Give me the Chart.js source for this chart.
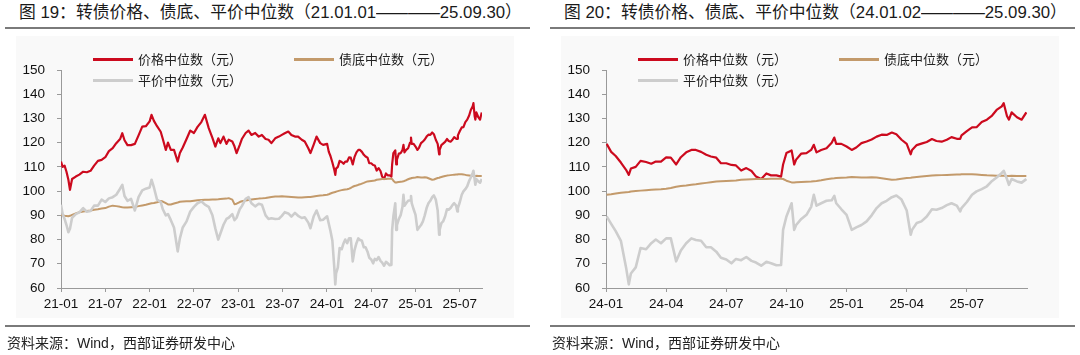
<!DOCTYPE html>
<html><head><meta charset="utf-8">
<script src="https://cdn.jsdelivr.net/npm/chart.js@4.4.0/dist/chart.umd.min.js"></script>
<style>
html,body{margin:0;padding:0}
body{width:1080px;height:355px;background:#fff;position:relative;overflow:hidden;font-family:"Liberation Sans","Noto Sans CJK SC",sans-serif;}
.title{position:absolute;top:1px;font-size:16.8px;color:#1a1a1a;white-space:nowrap;line-height:24px}
.dash{display:inline-block;transform:scaleX(1.9);transform-origin:0 50%;margin-right:30px}
.rule{position:absolute;height:2px;background:#7a7a7a}
.bg{position:absolute;background:#f9f9f9;top:36px;height:282px;width:498px}
canvas{position:absolute;top:0}
.leg{position:absolute;font-family:"Noto Sans CJK SC",sans-serif;font-size:13px;color:#222;line-height:16px;white-space:nowrap}
.sw{position:absolute;height:3px;width:40px}
.src{position:absolute;top:333px;font-size:14px;color:#222;white-space:nowrap;line-height:20px}
</style></head>
<body>
<div class="title" style="left:19px">图 19：转债价格、债底、平价中位数（21.01.01<span class="dash">——</span>25.09.30）</div>
<div class="title" style="left:564px">图 20：转债价格、债底、平价中位数（24.01.02<span class="dash">——</span>25.09.30）</div>
<div class="rule" style="left:5px;width:525px;top:27px"></div>
<div class="rule" style="left:550px;width:525px;top:27px"></div>
<div class="bg" style="left:16px"></div>
<div class="bg" style="left:561px"></div>
<canvas id="c1" width="540" height="355" style="left:0"></canvas>
<canvas id="c2" width="535" height="355" style="left:545px"></canvas>
<div id="legs"></div>
<div class="rule" style="left:5px;width:525px;top:325px"></div>
<div class="rule" style="left:550px;width:525px;top:325px"></div>
<div class="src" style="left:7px">资料来源：Wind，西部证券研发中心</div>
<div class="src" style="left:552px">资料来源：Wind，西部证券研发中心</div>
<script>
// ---- data ----
const dates = [
'2021-01-01','2021-01-08','2021-01-16','2021-01-24','2021-02-01','2021-02-07','2021-02-15','2021-03-01','2021-03-16','2021-04-01',
'2021-04-16','2021-05-01','2021-05-16','2021-06-01','2021-06-16','2021-07-01','2021-07-16','2021-08-01','2021-08-16','2021-09-01',
'2021-09-10','2021-09-19','2021-10-01','2021-10-16','2021-11-01','2021-11-16','2021-12-01','2021-12-16','2022-01-01','2022-01-09',
'2022-01-19','2022-02-01','2022-02-15','2022-02-23','2022-03-07','2022-03-16','2022-03-28','2022-04-10','2022-04-25','2022-05-04',
'2022-05-16','2022-06-01','2022-06-16','2022-07-01','2022-07-16','2022-08-01','2022-08-16','2022-09-01','2022-09-16','2022-09-28',
'2022-10-10','2022-10-19','2022-11-01','2022-11-13','2022-11-22','2022-12-07','2022-12-16','2022-12-25','2023-01-07','2023-01-16',
'2023-02-01','2023-02-12','2023-02-23','2023-03-10','2023-03-25','2023-04-07','2023-04-22','2023-05-04','2023-05-16','2023-06-01',
'2023-06-16','2023-06-28','2023-07-10','2023-07-25','2023-08-07','2023-08-22','2023-09-04','2023-09-19','2023-10-01','2023-10-16',
'2023-10-25','2023-11-07','2023-11-19','2023-12-04','2023-12-16',
'2024-01-02','2024-01-09','2024-01-16','2024-01-24','2024-02-01','2024-02-05','2024-02-08','2024-02-15','2024-02-22','2024-03-01',
'2024-03-09','2024-03-16','2024-03-24','2024-04-01','2024-04-08','2024-04-16','2024-04-23','2024-05-01','2024-05-09','2024-05-16',
'2024-05-24','2024-06-01','2024-06-08','2024-06-16','2024-06-23','2024-07-01','2024-07-09','2024-07-16','2024-07-24','2024-08-01',
'2024-08-09','2024-08-16','2024-08-24','2024-09-01','2024-09-08','2024-09-16','2024-09-23','2024-09-26','2024-10-01','2024-10-09',
'2024-10-13','2024-10-16','2024-10-24','2024-11-01','2024-11-08','2024-11-12','2024-11-16','2024-11-23','2024-12-01','2024-12-09',
'2024-12-13','2024-12-16','2024-12-24','2025-01-01','2025-01-09','2025-01-16','2025-01-24','2025-02-01','2025-02-08','2025-02-15',
'2025-02-22','2025-03-01','2025-03-09','2025-03-16','2025-03-24','2025-04-01','2025-04-07','2025-04-09','2025-04-16','2025-04-23',
'2025-05-01','2025-05-09','2025-05-16','2025-05-24','2025-06-01','2025-06-08','2025-06-16','2025-06-21','2025-06-23','2025-07-01',
'2025-07-09','2025-07-16','2025-07-24','2025-08-01','2025-08-09','2025-08-16','2025-08-24','2025-08-27','2025-09-01','2025-09-04',
'2025-09-08','2025-09-16','2025-09-23','2025-09-30'];

const priceMedian = [
112.2,110,110.5,108,104.7,100.5,105,106,106.8,108,
107.8,108.4,110.5,112.5,112.9,114,116.5,117.7,119.8,121.5,
123.9,121,119,119,119.5,123,126.6,126.8,128.8,131.5,
129,126.8,124.5,121.5,117,120,117,117,112.2,115.7,
118,121.5,125,124,126.5,128.5,131.5,126,122,118.4,
121.8,119.8,122.5,119.5,121.2,120.5,118.5,115.7,119,121.5,
124,125,123.2,124,122.5,123.2,121.5,121.2,119.8,121.8,
122.5,123.2,123.9,124.6,123.2,122.5,122.5,121.2,120.5,117.7,
115.7,119.1,122.5,119.8,119.1,
119.5,116.2,114.5,111.8,108.8,106.7,109.3,110,112.5,112,
111.3,112.2,112.2,113.9,113.8,111,114,116,117,117,
116.2,115,114.3,113.8,111.5,111.5,110.8,110.6,108.5,109.5,
108.3,106,105,107.3,106.5,106.5,106,111,115.7,116.8,
111,113,115.5,115.7,117,119.1,116,117,117.7,120,
122.1,119.5,119.5,118.4,117,118,119.8,120.5,121.3,122.5,
123.3,123.2,124.2,123.5,121.2,119.5,115.2,117,119,119.6,
120.3,121.5,120.7,120.4,121.2,122.3,121.6,121.6,123,124.8,
126.3,126.4,128.5,129.5,131.2,133.5,135,136.3,131,129.5,
132.5,130.5,129.5,132.5];

const bondFloor = [
90.2,90,89.8,89.7,89.6,89.8,90.2,90.8,91.3,91.6,
91.8,92,92.3,92.5,92.8,93,93.6,94,93.8,93.5,
93.3,93.2,93.2,93.3,93.4,93.8,94.1,94.4,94.8,95,
95.1,95.4,95.9,95.7,95,94.5,94.5,94.9,95.3,95.6,
95.7,95.8,95.8,96,96.2,96.3,96.4,96.4,96.5,96.5,
96.6,96.7,96.8,96.9,97.1,96.5,94.6,94.8,95.5,95.8,
96.1,96.3,96.5,96.7,96.9,97,97.2,97.4,97.6,97.8,
97.8,97.9,97.8,97.7,97.6,97.5,97.4,97.4,97.5,97.6,
97.6,97.8,98,98.2,98.3,
98.5,98.7,99,99.3,99.5,99.6,99.8,100,100.2,100.4,
100.6,100.7,100.8,101,101.3,101.8,102.1,102.3,102.6,102.8,
103.1,103.4,103.7,104,104.1,104.2,104.3,104.4,104.7,104.8,
104.9,105,105,105,105.1,105.1,105.1,105,104.3,103.6,
103.6,103.7,103.8,103.9,104,104.1,104.2,104.5,104.9,105.2,
105.3,105.4,105.5,105.6,105.8,105.7,105.6,105.6,105.7,105.6,
105.3,105,104.7,104.8,105.1,105.4,105.5,105.6,105.8,106,
106.2,106.4,106.5,106.6,106.7,106.8,106.9,106.9,107,107,
107,106.9,106.7,106.5,106.4,106.3,106.3,106.3,106.2,106.2,
106.3,106.2,106.2,106.2];

const parityMedian = [
94.4,90.5,88.5,86,83,84.5,89,90.5,91.2,93,
91.5,91.8,94,94,96.5,95.5,97,97.5,98.5,101,
102.6,98,96,96.8,92,97.5,100.3,101,101.5,104.7,
101.5,96.5,95.5,92.5,90,90.5,88,85,75.1,80.5,
85,87.5,91.6,93.5,95,95.8,94.4,93.5,90,84.5,
80,82.5,86.1,88.5,89,90.5,88,89,92.5,93.8,
96.8,97.5,95,93.7,94.8,94.4,90,88.5,88.8,88.5,
88.6,89.8,91.3,90.8,89.5,91,89.8,88.9,89.2,87,
84.7,89.5,92,88,88.2,
89.6,86.5,83.5,79.5,68.5,61.5,66,68.5,76.5,76,
78.5,80,78.5,80.5,80.5,71,75.5,78.5,80.5,79.8,
79.5,76.8,76.8,75,72.5,71.8,70.2,72,71.5,72.8,
71.2,70.5,69.2,70.8,70.2,69.4,69.5,84,89.5,95,
84,86,88.5,90.2,93.5,98.5,94,95,96,96.2,
98,95,92.5,90.2,84,85,86,87.5,90,93,
95,96,97.5,98.2,96.5,92,82,84,86.8,87.5,
89.5,92.5,92.3,93,94.2,95,94,91.6,93,95.5,
98.5,99.9,100.8,102,104.2,105.6,107.5,108.4,105,102.6,
105,104,103.5,105];

const seriesNames = ['价格中位数（元）','债底中位数（元）','平价中位数（元）'];
const leftTickLabels  = ['21-01','21-07','22-01','22-07','23-01','23-07','24-01','24-07','25-01','25-07'];
const rightTickLabels = ['24-01','24-04','24-07','24-10','25-01','25-04','25-07'];
const yTicksRange = [60, 150, 10];

// ---- helpers ----
const COLORS = ['#cc0a1e','#c39a6b','#cdcdcd'];
const WIDTHS = [2.2, 2, 2.6];
function monthPos(s){
  const [y,m,d] = s.split('-').map(Number);
  const dim = new Date(y, m, 0).getDate();
  return (y-2021)*12 + (m-1) + (d-1)/dim;
}
function labelPos(l){ const [yy,mm]=l.split('-').map(Number); return (yy-21)*12+(mm-1); }
function fmt(v){ const y=21+Math.floor(v/12); const m=Math.round(v-(y-21)*12)+1; return y+'-'+String(m).padStart(2,'0'); }
const xs = dates.map(monthPos);
const all = [priceMedian, bondFloor, parityMedian];

function build(id, startLabel, tickLabels, padRight){
  const xmin = labelPos(startLabel);
  const tickVals = tickLabels.map(labelPos);
  const ds = all.map((arr,i)=>({
    label: seriesNames[i],
    data: xs.map((x,j)=>({x:x,y:arr[j]})).filter(p=>p.x>=xmin-1e-9),
    borderColor: COLORS[i], backgroundColor: COLORS[i], borderWidth: WIDTHS[i],
    pointRadius:0, tension:0, fill:false, borderJoinStyle:'round', order: 3-i
  }));
  const axisCol = '#9a9a9a';
  const tickFont = {family:'"Liberation Sans", Arial, sans-serif', size:13.5};
  return new Chart(document.getElementById(id), {
    type:'line',
    data:{datasets:ds},
    options:{
      responsive:false, animation:false, events:[],
      layout:{padding:{left:0,right:padRight,top:70,bottom:37}},
      plugins:{legend:{display:false}, tooltip:{enabled:false}},
      scales:{
        x:{type:'linear', min:xmin, max:57,
          afterBuildTicks:s=>{ s.ticks = tickVals.map(v=>({value:v})); },
          afterFit:s=>{ s.height=30; },
          ticks:{callback:v=>fmt(v), autoSkip:false, maxRotation:0, minRotation:0, padding:4, color:'#111', font:tickFont},
          grid:{drawOnChartArea:false, drawTicks:true, tickLength:4, color:axisCol},
          border:{color:axisCol, width:1}},
        y:{min:yTicksRange[0], max:yTicksRange[1],
          afterFit:s=>{ s.width=61; },
          ticks:{stepSize:yTicksRange[2], padding:12, color:'#111', font:tickFont},
          grid:{drawOnChartArea:false, drawTicks:true, tickLength:4, color:axisCol},
          border:{color:axisCol, width:1}}
      }
    }
  });
}
build('c1', leftTickLabels[0], leftTickLabels, 58);
build('c2', rightTickLabels[0], rightTickLabels, 53);

// ---- legends ----
const legs = document.getElementById('legs');
[[0,0],[545,0]].forEach(([off])=>{
  const pos = [[93,59],[294,59],[93,80]];
  pos.forEach(([x,y],i)=>{
    const sw=document.createElement('div'); sw.className='sw';
    sw.style.left=(x+off)+'px'; sw.style.top=(y-1.5)+'px'; sw.style.background=COLORS[i];
    legs.appendChild(sw);
    const t=document.createElement('div'); t.className='leg';
    t.style.left=(x+off+45)+'px'; t.style.top=(y-8)+'px'; t.textContent=seriesNames[i];
    legs.appendChild(t);
  });
});
</script>
</body></html>
